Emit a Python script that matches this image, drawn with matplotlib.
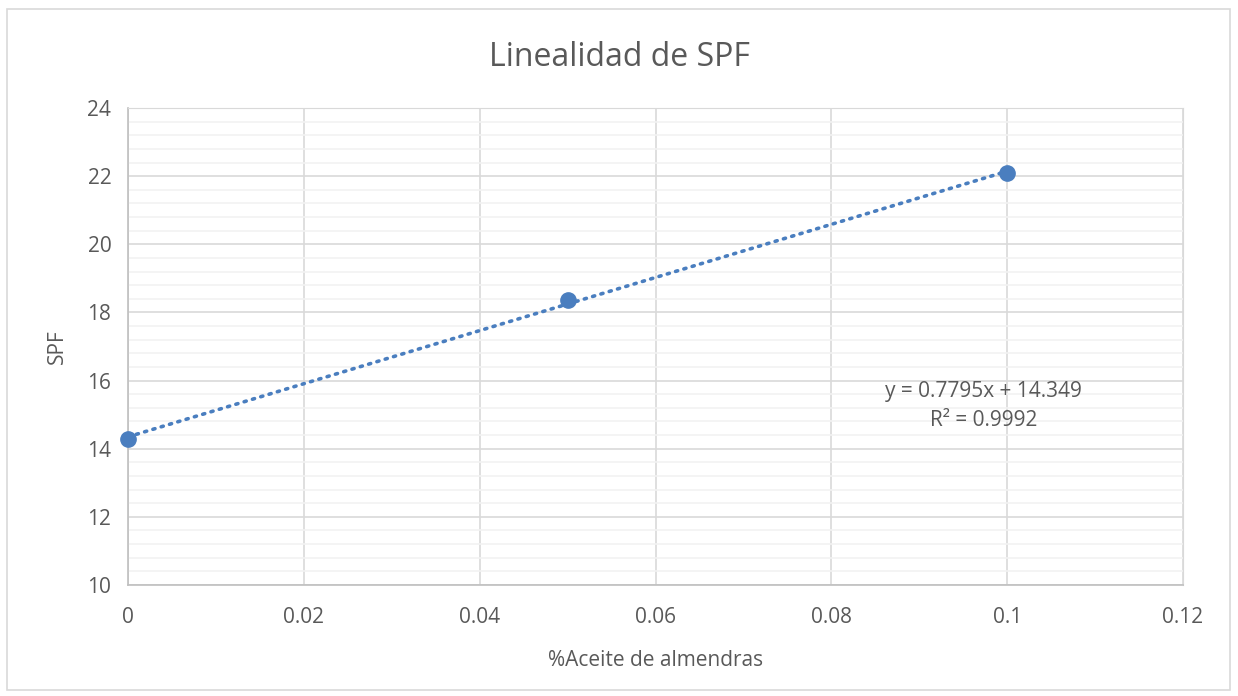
import numpy as np
import matplotlib.pyplot as plt
from matplotlib.patches import Rectangle

BLUE = '#4A7EBF'
TEXT = '#595959'

# data
aceite = [0.0, 0.05, 0.1]
spf = [14.285, 18.374, 22.080]
eq_text = 'y = 0.7795x + 14.349'
r2_text = 'R² = 0.9992'

plt.rcParams['font.family'] = ['Open Sans', 'DejaVu Sans']

fig = plt.figure(figsize=(12.38, 6.96), dpi=100)
ax = fig.add_axes([128 / 1238, 1 - 585 / 696, (1183 - 128) / 1238, (585 - 108) / 696])

# outer chart border
fig.patches.append(Rectangle((7 / 1238, 1 - 690 / 696), 1223 / 1238, 681 / 696,
                             transform=fig.transFigure, fill=False,
                             edgecolor='#D9D9D9', linewidth=1.2))

# linear trendline fitted to the points
slope, intercept = np.polyfit(aceite, spf, 1)
xs = np.array([0.0, 0.1])
ax.plot(xs, slope * xs + intercept, color=BLUE, linestyle=(0, (0.6, 1.8)),
        linewidth=2.6, dash_capstyle='round', zorder=3)
ax.plot(aceite, spf, 'o', color=BLUE, markersize=11, zorder=4, clip_on=False)

ax.set_xlim(0, 0.12)
ax.set_ylim(10, 24)
ax.set_xticks(np.arange(0, 0.121, 0.02))
ax.set_xticklabels(['0', '0.02', '0.04', '0.06', '0.08', '0.1', '0.12'])
ax.set_yticks(np.arange(10, 25, 2))
ax.set_yticks(np.arange(10, 24.01, 0.4), minor=True)

ax.grid(True, which='major', color='#D9D9D9', linewidth=1.2)
ax.grid(True, which='minor', axis='y', color='#F2F2F2', linewidth=1.2)
ax.set_axisbelow(True)
for s in ['top', 'right']:
    ax.spines[s].set_color('#D9D9D9')
for s in ['left', 'bottom']:
    ax.spines[s].set_color('#BFBFBF')
    ax.spines[s].set_linewidth(1.2)
ax.tick_params(which='both', length=0, labelsize=15, labelcolor=TEXT)
ax.tick_params(axis='x', pad=16)
ax.tick_params(axis='y', pad=12)

ax.set_xlabel('%Aceite de almendras', fontsize=15, color=TEXT, labelpad=16)
ax.set_ylabel('SPF', fontsize=15, color=TEXT, labelpad=14)
fig.text(0.5, 1 - 57 / 696, 'Linealidad de SPF', ha='center', va='center',
         fontsize=23, color=TEXT)

ax.text(0.0973, 15.67, eq_text, ha='center', va='center', fontsize=15, color=TEXT)
ax.text(0.0973, 14.82, r2_text, ha='center', va='center', fontsize=15, color=TEXT)

plt.savefig('out.png', dpi=100)
plt.close()
